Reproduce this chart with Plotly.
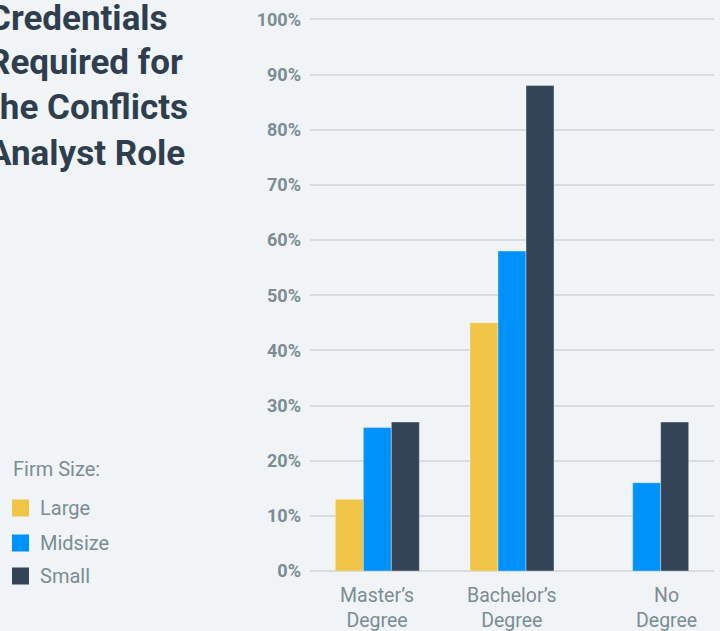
import plotly.graph_objects as go

# Survey data: share of firms requiring each credential, by firm size
categories = ["Master’s<br>Degree", "Bachelor’s<br>Degree", "No<br>Degree"]
series_names = ["Large", "Midsize", "Small"]
large = [13, 45, None]
midsize = [26, 58, 16]
small = [27, 88, 27]
y_ticks = list(range(0, 101, 10))
y_tick_text = [f"{v}%" for v in y_ticks]
title_lines = ["Credentials", "Required for", "the Conflicts", "Analyst Role"]
legend_title = "Firm Size:"

colors = ["#f0c447", "#0092fb", "#334456"]
bg = "#f0f4f7"
tick_color = "#7b8c94"
title_color = "#2f3e4e"

W, H = 720, 631
L, R, T, B = 310, 6, 18, 60
plot_w = W - L - R
plot_h = H - T - B


def px(x):
    return (x - L) / plot_w


def py(y):
    return (H - B - y) / plot_h


fig = go.Figure()
for name, vals, col in zip(series_names, [large, midsize, small], colors):
    fig.add_trace(go.Bar(
        x=categories, y=vals, name=name,
        marker=dict(color=col, line=dict(color="rgba(255,255,255,0.35)", width=1)),
        showlegend=False, hoverinfo="skip",
    ))

annotations = []
shapes = []

# Title block, left aligned and running off the left edge
title_y = [18, 63, 108, 154]
for text, yy in zip(title_lines, title_y):
    annotations.append(dict(
        text=text, xref="paper", yref="paper", x=px(-14), y=py(yy),
        xanchor="left", yanchor="middle", showarrow=False,
        font=dict(family="Roboto", size=35, color=title_color, weight="bold"),
    ))

# Category labels under the axis
label_shift = [0, 0, 20]
for cat, sh in zip(categories, label_shift):
    annotations.append(dict(
        text=cat, x=cat, xref="x", yref="paper", y=py(582),
        xanchor="center", yanchor="top", showarrow=False, xshift=sh,
        align="center",
        font=dict(family="Roboto", size=19.5, color=tick_color),
    ))

# Legend
annotations.append(dict(
    text=legend_title, xref="paper", yref="paper", x=px(11), y=py(469),
    xanchor="left", yanchor="middle", showarrow=False,
    font=dict(family="Roboto", size=20, color=tick_color),
))
legend_y = [508, 543, 576]
for name, col, yy in zip(series_names, colors, legend_y):
    shapes.append(dict(
        type="rect", xref="paper", yref="paper",
        x0=px(12), x1=px(29), y0=py(yy - 8.5), y1=py(yy + 8.5),
        fillcolor=col, line=dict(width=0),
    ))
    annotations.append(dict(
        text=name, xref="paper", yref="paper", x=px(38), y=py(yy),
        xanchor="left", yanchor="middle", showarrow=False,
        font=dict(family="Roboto", size=20, color=tick_color),
    ))

fig.update_layout(
    width=W, height=H,
    margin=dict(l=L, r=R, t=T, b=B),
    paper_bgcolor=bg, plot_bgcolor=bg,
    barmode="group", bargap=0.376, bargroupgap=0,
    annotations=annotations, shapes=shapes,
    xaxis=dict(showticklabels=False, showgrid=False, zeroline=False,
               showline=False, ticks=""),
    yaxis=dict(range=[0, 100.25], tickmode="array", tickvals=y_ticks,
               ticktext=y_tick_text,
               showgrid=True, gridcolor="#d8dcdf", gridwidth=1.5,
               zeroline=True, zerolinecolor="#d8dcdf", zerolinewidth=1.5,
               showline=False, ticks="", ticklabelstandoff=8,
               tickfont=dict(family="Roboto", size=18, color=tick_color,
                             weight="bold")),
    font=dict(family="Roboto"),
)

fig.write_html("out.html", config={"displayModeBar": False})
